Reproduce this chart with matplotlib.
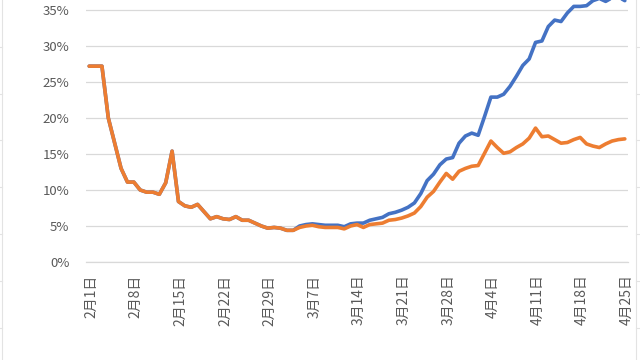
import numpy as np
import matplotlib
matplotlib.use('Agg')
import matplotlib.pyplot as plt
from matplotlib.lines import Line2D
from matplotlib.transforms import ScaledTranslation

plt.rcParams['font.family'] = ['Noto Sans CJK JP', 'DejaVu Sans']

# daily values, 2月1日 .. 4月25日 (85 days), in percent
blue = [27.2, 27.2, 27.2, 20.0, 16.5, 13.0, 11.1, 11.1, 10.0, 9.7,
        9.7, 9.4, 11.0, 15.4, 8.4, 7.8, 7.6, 8.0, 7.0, 6.0,
        6.3, 6.0, 5.9, 6.3, 5.8, 5.8, 5.4, 5.0, 4.7, 4.8,
        4.7, 4.4, 4.4, 5.0, 5.2, 5.3, 5.2, 5.1, 5.1, 5.1,
        4.9, 5.3, 5.4, 5.4, 5.8, 6.0, 6.2, 6.7, 6.9, 7.2,
        7.6, 8.2, 9.5, 11.3, 12.2, 13.5, 14.3, 14.5, 16.5, 17.5,
        17.9, 17.6, 20.2, 22.9, 22.9, 23.3, 24.4, 25.8, 27.3, 28.2,
        30.5, 30.7, 32.7, 33.6, 33.4, 34.6, 35.5, 35.5, 35.6, 36.3,
        36.6, 36.2, 36.7, 36.8, 36.3]
orange = [27.2, 27.2, 27.2, 20.0, 16.5, 13.0, 11.1, 11.1, 10.0, 9.7,
          9.7, 9.4, 11.0, 15.4, 8.4, 7.8, 7.6, 8.0, 7.0, 6.0,
          6.3, 6.0, 5.9, 6.3, 5.8, 5.8, 5.4, 5.0, 4.7, 4.8,
          4.7, 4.4, 4.4, 4.8, 5.0, 5.1, 4.9, 4.8, 4.8, 4.8,
          4.6, 5.0, 5.2, 4.8, 5.2, 5.3, 5.4, 5.8, 5.9, 6.1,
          6.4, 6.8, 7.7, 9.0, 9.8, 11.1, 12.3, 11.5, 12.6, 13.0,
          13.3, 13.4, 15.1, 16.8, 15.9, 15.1, 15.3, 15.9, 16.4, 17.2,
          18.6, 17.4, 17.5, 17.0, 16.5, 16.6, 17.0, 17.3, 16.4, 16.1,
          15.9, 16.4, 16.8, 17.0, 17.1]

tick_labels = ['2月1日', '2月8日', '2月15日', '2月22日', '2月29日', '3月7日',
               '3月14日', '3月21日', '3月28日', '4月4日', '4月11日',
               '4月18日', '4月25日']
y_ticks = [0, 5, 10, 15, 20, 25, 30, 35]

days = np.arange(len(blue))

fig = plt.figure(figsize=(6.4, 3.6), dpi=100)
ax = fig.add_axes([86/640, 98/360, 542/640, 288/360])

ax.plot(days, blue, color='#4472C4', lw=2.6, solid_joinstyle='round', solid_capstyle='round')
ax.plot(days, orange, color='#ED7D31', lw=2.6, solid_joinstyle='round', solid_capstyle='round')

ax.set_xlim(-0.5, 84.5)
ax.set_ylim(0, 40)
ax.set_yticks(y_ticks)
ax.set_yticklabels([f'{v}%' for v in y_ticks])
ax.set_xticks(np.arange(0, 85, 7))
ax.set_xticklabels(tick_labels, rotation=90, va='top', ha='center')

ax.grid(axis='y', color='#D9D9D9', lw=0.9)
ax.set_axisbelow(True)
for s in ['left', 'right', 'top']:
    ax.spines[s].set_visible(False)
ax.spines['bottom'].set_color('#D9D9D9')
ax.spines['bottom'].set_linewidth(0.9)
ax.tick_params(axis='both', length=0, colors='#595959')
ax.tick_params(axis='y', pad=12, labelsize=9.5)
ax.tick_params(axis='x', pad=9, labelsize=10)
for lab in ax.get_xticklabels():
    lab.set_transform(lab.get_transform() + ScaledTranslation(2/100, 0, fig.dpi_scale_trans))

# faint frame edges of neighbouring charts
W, H = 640, 360
for xe, d in [(2, -2), (636, 4)]:
    fig.add_artist(Line2D([xe/W, xe/W], [0, 1], color='#E3E3E3', lw=0.8))
    for yp in [47, 94, 140, 187, 234, 281, 328]:
        fig.add_artist(Line2D([xe/W, (xe+d)/W], [1 - yp/H, 1 - yp/H], color='#E3E3E3', lw=0.8))

fig.savefig('out.png', dpi=100)
